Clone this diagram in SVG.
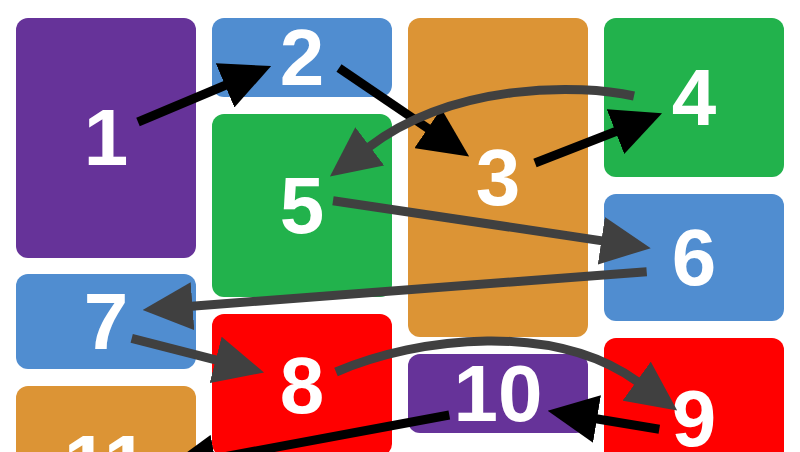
<svg xmlns="http://www.w3.org/2000/svg" width="800" height="452" viewBox="0 0 800 452">
<style>
.lbl{font-family:"Liberation Sans",Arial,sans-serif;font-weight:bold;font-size:80px;fill:#fff;text-anchor:middle}
.purple{fill:#663399}.blue{fill:#508dd0}.orange{fill:#dc9435}.green{fill:#22b24c}.red{fill:#ff0000}
.c{fill:none;stroke-width:9;stroke-linecap:butt}
.k{stroke:#000;marker-end:url(#hk)}
.g{stroke:#404040;marker-end:url(#hg)}
</style>
<defs>
<marker id="hk" viewBox="0 0 50 48" markerWidth="50" markerHeight="48" refX="1" refY="24" orient="auto" markerUnits="userSpaceOnUse"><path d="M0,0 L50,24 L0,48 z" fill="#000"/></marker>
<marker id="hg" viewBox="0 0 50 48" markerWidth="50" markerHeight="48" refX="1" refY="24" orient="auto" markerUnits="userSpaceOnUse"><path d="M0,0 L50,24 L0,48 z" fill="#404040"/></marker>
</defs>
<rect width="800" height="452" fill="#fff"/>
<g id="n1"><rect class="purple" x="16" y="18" width="180" height="240" rx="12"/><text class="lbl" x="106" y="165">1</text></g>
<g id="n2"><rect class="blue" x="212" y="18" width="180" height="79" rx="12"/><text class="lbl" x="302" y="84.5">2</text></g>
<g id="n3"><rect class="orange" x="408" y="18" width="180" height="319" rx="12"/><text class="lbl" x="498" y="204.5">3</text></g>
<g id="n4"><rect class="green" x="604" y="18" width="180" height="159" rx="12"/><text class="lbl" x="694" y="125">4</text></g>
<g id="n5"><rect class="green" x="212" y="114" width="180" height="183" rx="12"/><text class="lbl" x="302" y="232.5">5</text></g>
<g id="n6"><rect class="blue" x="604" y="194" width="180" height="127" rx="12"/><text class="lbl" x="694" y="284.5">6</text></g>
<g id="n7"><rect class="blue" x="16" y="274" width="180" height="95" rx="12"/><text class="lbl" x="106" y="348.5">7</text></g>
<g id="n8"><rect class="red" x="212" y="314" width="180" height="142" rx="12"/><text class="lbl" x="302" y="413">8</text></g>
<g id="n9"><rect class="red" x="604" y="338" width="180" height="162" rx="12"/><text class="lbl" x="694" y="446">9</text></g>
<g id="n10"><rect class="purple" x="408" y="354" width="180" height="79" rx="12"/><text class="lbl" x="498" y="420.5">10</text></g>
<g id="n11"><rect class="orange" x="16" y="386" width="180" height="156" rx="12"/><text class="lbl" x="106" y="491">11</text></g>
<g id="connectors">
<path class="c k" d="M138,122 L226,85"/>
<path class="c k" d="M339,68 L428.6,128.9"/>
<path class="c k" d="M535,163 L616.4,131.2"/>
<path class="c g" d="M634,96 C580,84 455,82 369,147"/>
<path class="c g" d="M333,200.7 L602.3,240.9"/>
<path class="c g" d="M646.7,271.7 L191.5,306.2"/>
<path class="c g" d="M131.7,338.3 L216.6,360.2"/>
<path class="c g" d="M336,372 C420,336 555,322 637.5,381.7"/>
<path class="c k" d="M659.3,429.3 L596,418.8"/>
<path class="c k" d="M449.3,415 L214,458.7"/>
</g>
</svg>
